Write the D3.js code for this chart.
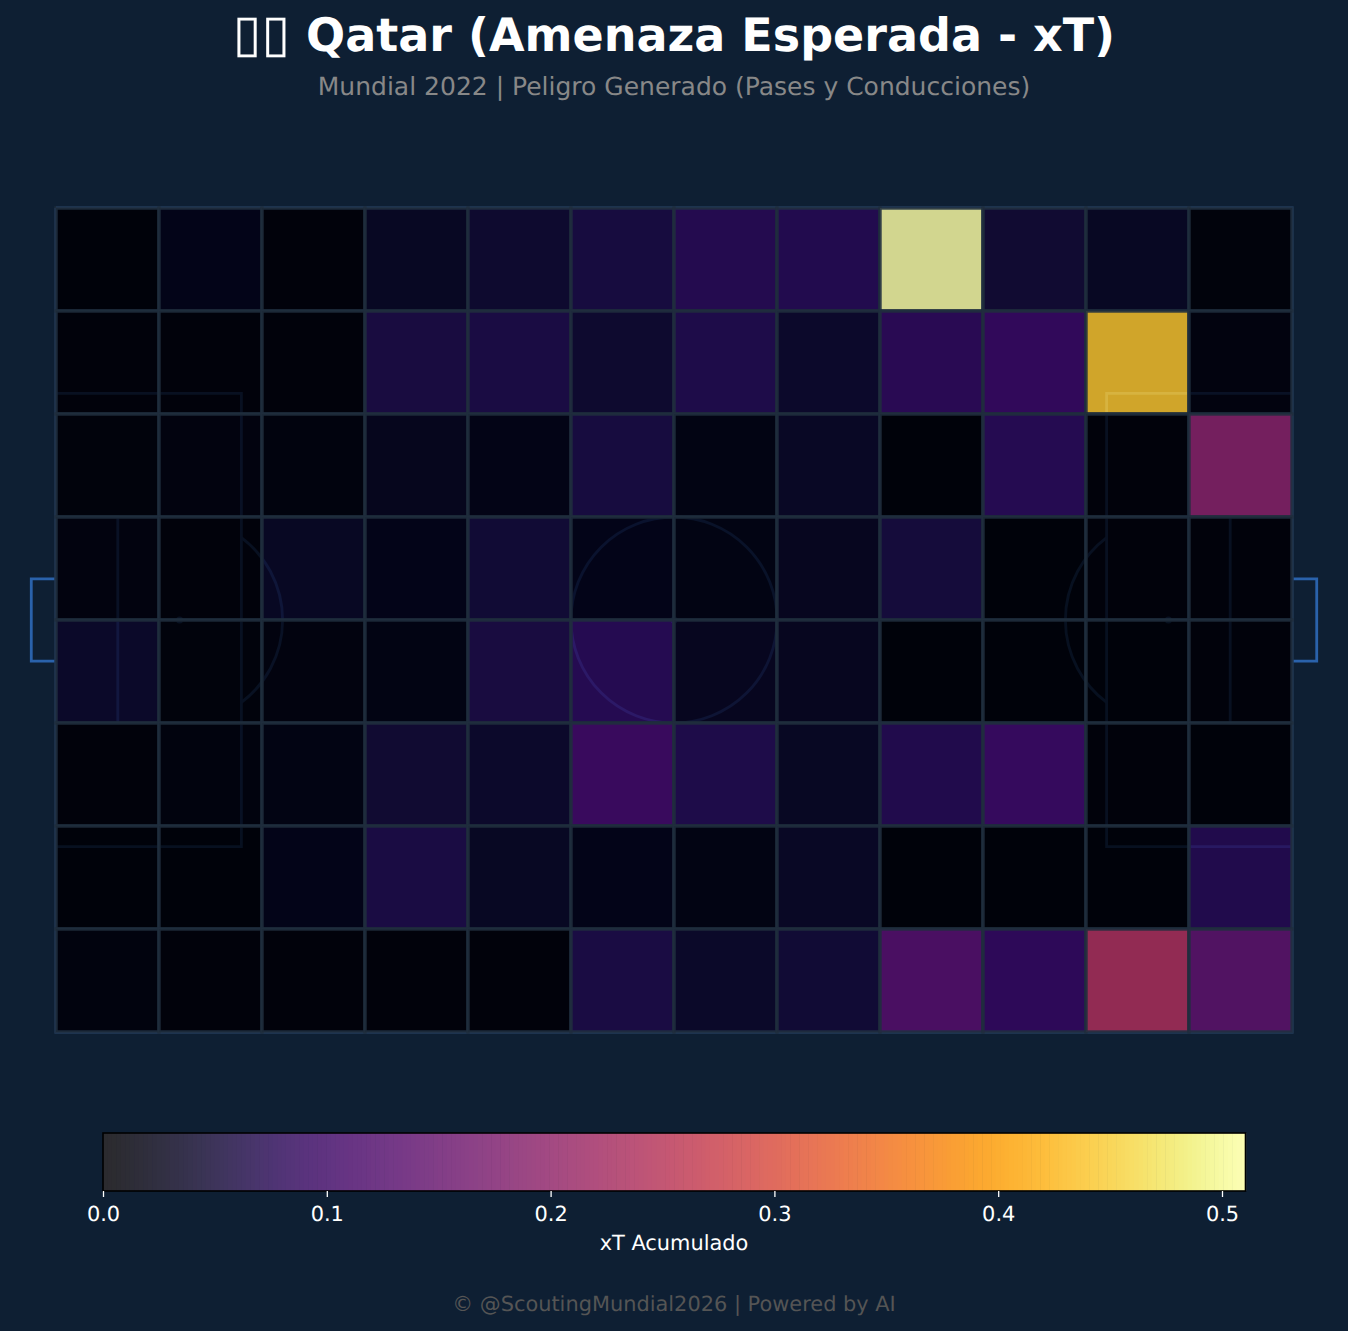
<!DOCTYPE html>
<html lang="es">
<head>
<meta charset="utf-8">
<title>Qatar xT</title>
<script src="https://cdn.jsdelivr.net/npm/d3@7"></script>
<style>
  html, body { margin: 0; padding: 0; background: #0e1f33; }
  svg { display: block; }
  text { font-family: "DejaVu Sans", sans-serif; text-rendering: geometricPrecision; }
</style>
</head>
<body>
<svg id="chart" width="1348" height="1331"></svg>
<script>
// Accumulated expected threat per pitch zone, rows listed from the top touchline down.
const row1 = [0.001, 0.019, 0.003, 0.030, 0.042, 0.059, 0.077, 0.075, 0.5105, 0.047, 0.030, 0.005];
const row2 = [0.002, 0.002, 0.002, 0.061, 0.063, 0.042, 0.069, 0.038, 0.082, 0.095, 0.439, 0.009];
const row3 = [0.004, 0.009, 0.007, 0.024, 0.017, 0.058, 0.012, 0.033, 0.001, 0.079, 0.002, 0.195];
const row4 = [0.009, 0.002, 0.031, 0.018, 0.049, 0.018, 0.012, 0.027, 0.055, 0.001, 0.002, 0.002];
const row5 = [0.036, 0.004, 0.009, 0.012, 0.061, 0.079, 0.027, 0.027, 0.001, 0.001, 0.001, 0.002];
const row6 = [0.003, 0.006, 0.012, 0.047, 0.038, 0.104, 0.069, 0.030, 0.072, 0.101, 0.002, 0.001];
const row7 = [0.001, 0.001, 0.018, 0.063, 0.030, 0.018, 0.012, 0.033, 0.0005, 0.0005, 0.001, 0.072];
const row8 = [0.006, 0.003, 0.003, 0.003, 0.002, 0.063, 0.036, 0.049, 0.130, 0.089, 0.240, 0.142];
const rows = [row1, row2, row3, row4, row5, row6, row7, row8];

const colorbarTicks = [0, 0.1, 0.2, 0.3, 0.4, 0.5];
const titleBoxes = "\u25AF\u25AF";
const titleText = " Qatar (Amenaza Esperada - xT)";
const subtitleText = "Mundial 2022 | Peligro Generado (Pases y Conducciones)";
const colorbarLabel = "xT Acumulado";
const footerText = "© @ScoutingMundial2026 | Powered by AI";

const BG = "#0e1f33";
const PITCH_BASE = "#04102a";
const LINE = "#2a62ab";
const EDGE = "#1f2e3d";
const CELL_ALPHA = 0.83;

const svg = d3.select("#chart");
svg.append("rect").attr("width", 1348).attr("height", 1331).attr("fill", BG);

// Pitch coordinates are StatsBomb units: 120 long by 80 wide.
const x = d3.scaleLinear().domain([0, 120]).range([56, 1292]);
const y = d3.scaleLinear().domain([0, 80]).range([208, 1032]);
const vmax = d3.max(rows.flat());
const color = d3.scaleSequential(d3.interpolateInferno).domain([0, vmax]);

svg.append("rect").attr("x", x(0)).attr("y", y(0))
  .attr("width", x(120) - x(0)).attr("height", y(80) - y(0)).attr("fill", PITCH_BASE);

// Pitch markings sit underneath the heatmap and only show through its transparency.
const pitch = svg.append("g")
  .attr("fill", "none").attr("stroke", LINE).attr("stroke-width", 2.8);
const polyline = d3.line().x(d => x(d[0])).y(d => y(d[1]));
const paths = [
  [[0, 0], [120, 0], [120, 80], [0, 80], [0, 0]],
  [[60, 0], [60, 80]],
  [[0, 18], [18, 18], [18, 62], [0, 62]],
  [[120, 18], [102, 18], [102, 62], [120, 62]],
  [[0, 30], [6, 30], [6, 50], [0, 50]],
  [[120, 30], [114, 30], [114, 50], [120, 50]],
  [[0, 36], [-2.4, 36], [-2.4, 44], [0, 44]],
  [[120, 36], [122.4, 36], [122.4, 44], [120, 44]]
];
pitch.selectAll("path.marking").data(paths).join("path")
  .attr("class", "marking").attr("d", polyline);

const unit = x(1) - x(0);
pitch.append("circle").attr("cx", x(60)).attr("cy", y(40)).attr("r", 10 * unit);
pitch.selectAll("circle.spot").data([12, 60, 108]).join("circle")
  .attr("class", "spot").attr("cx", d => x(d)).attr("cy", y(40)).attr("r", 3.5)
  .attr("fill", LINE).attr("stroke", "none");

// Penalty arcs: the part of the 10-unit circle outside each box.
const arcAngle = Math.acos(6 / 10);
const arc = d3.arc().innerRadius(10 * unit).outerRadius(10 * unit);
pitch.append("path")
  .attr("transform", `translate(${x(12)},${y(40)})`)
  .attr("d", arc({ startAngle: Math.PI / 2 - arcAngle, endAngle: Math.PI / 2 + arcAngle }));
pitch.append("path")
  .attr("transform", `translate(${x(108)},${y(40)})`)
  .attr("d", arc({ startAngle: -Math.PI / 2 - arcAngle, endAngle: -Math.PI / 2 + arcAngle }));

// Heatmap: 12 by 8 zones.
const binW = 120 / row1.length;
const binH = 80 / rows.length;
const cells = rows.flatMap((r, j) => r.map((v, i) => ({ i, j, v })));
svg.append("g").selectAll("rect").data(cells).join("rect")
  .attr("x", d => x(d.i * binW))
  .attr("y", d => y(d.j * binH))
  .attr("width", binW * unit)
  .attr("height", binH * unit)
  .attr("fill", d => color(d.v))
  .attr("fill-opacity", CELL_ALPHA)
  .attr("stroke", EDGE)
  .attr("stroke-opacity", 0.9)
  .attr("stroke-width", 3.4);

// Titles.
const title = svg.append("text").attr("x", 674).attr("y", 51).attr("text-anchor", "middle")
  .attr("font-size", 46).attr("font-weight", "bold").attr("fill", "#ffffff");
title.append("tspan").attr("font-size", 52).text(titleBoxes);
title.append("tspan").text(titleText);
svg.append("text").attr("x", 674).attr("y", 95).attr("text-anchor", "middle")
  .attr("font-size", 25).attr("fill", "#888888").text(subtitleText);

// Colorbar: same colormap with the transparency flattened over white.
const cbX = d3.scaleLinear().domain([0, vmax]).range([103, 1245.5]);
const cbTop = 1133, cbH = 58;
const overWhite = c => d3.interpolateRgb("#ffffff", c)(CELL_ALPHA);
const cb = svg.append("g");
const steps = d3.range(256);
cb.selectAll("rect.step").data(steps).join("rect")
  .attr("class", "step")
  .attr("x", d => cbX(d / 256 * vmax))
  .attr("y", cbTop)
  .attr("width", (cbX(vmax) - cbX(0)) / 256 + 0.6)
  .attr("height", cbH)
  .attr("fill", d => overWhite(color((d + 0.5) / 256 * vmax)));
cb.append("rect").attr("x", cbX(0)).attr("y", cbTop)
  .attr("width", cbX(vmax) - cbX(0)).attr("height", cbH)
  .attr("fill", "none").attr("stroke", "#000000").attr("stroke-width", 1.6);

const cbAxis = svg.append("g")
  .attr("transform", `translate(0,${cbTop + cbH})`)
  .call(d3.axisBottom(cbX).tickValues(colorbarTicks).tickFormat(d3.format(".1f")).tickSize(6).tickPadding(9.5));
cbAxis.select(".domain").remove();
cbAxis.selectAll(".tick line").attr("stroke", "#ffffff").attr("stroke-width", 1.3);
cbAxis.selectAll(".tick text").attr("fill", "#ffffff").attr("font-size", 20.9)
  .attr("font-family", '"DejaVu Sans", sans-serif');

svg.append("text").attr("x", 674).attr("y", 1250).attr("text-anchor", "middle")
  .attr("font-size", 20.9).attr("fill", "#ffffff").text(colorbarLabel);
svg.append("text").attr("x", 674).attr("y", 1311).attr("text-anchor", "middle")
  .attr("font-size", 20.9).attr("fill", "#555555").text(footerText);
</script>
</body>
</html>
